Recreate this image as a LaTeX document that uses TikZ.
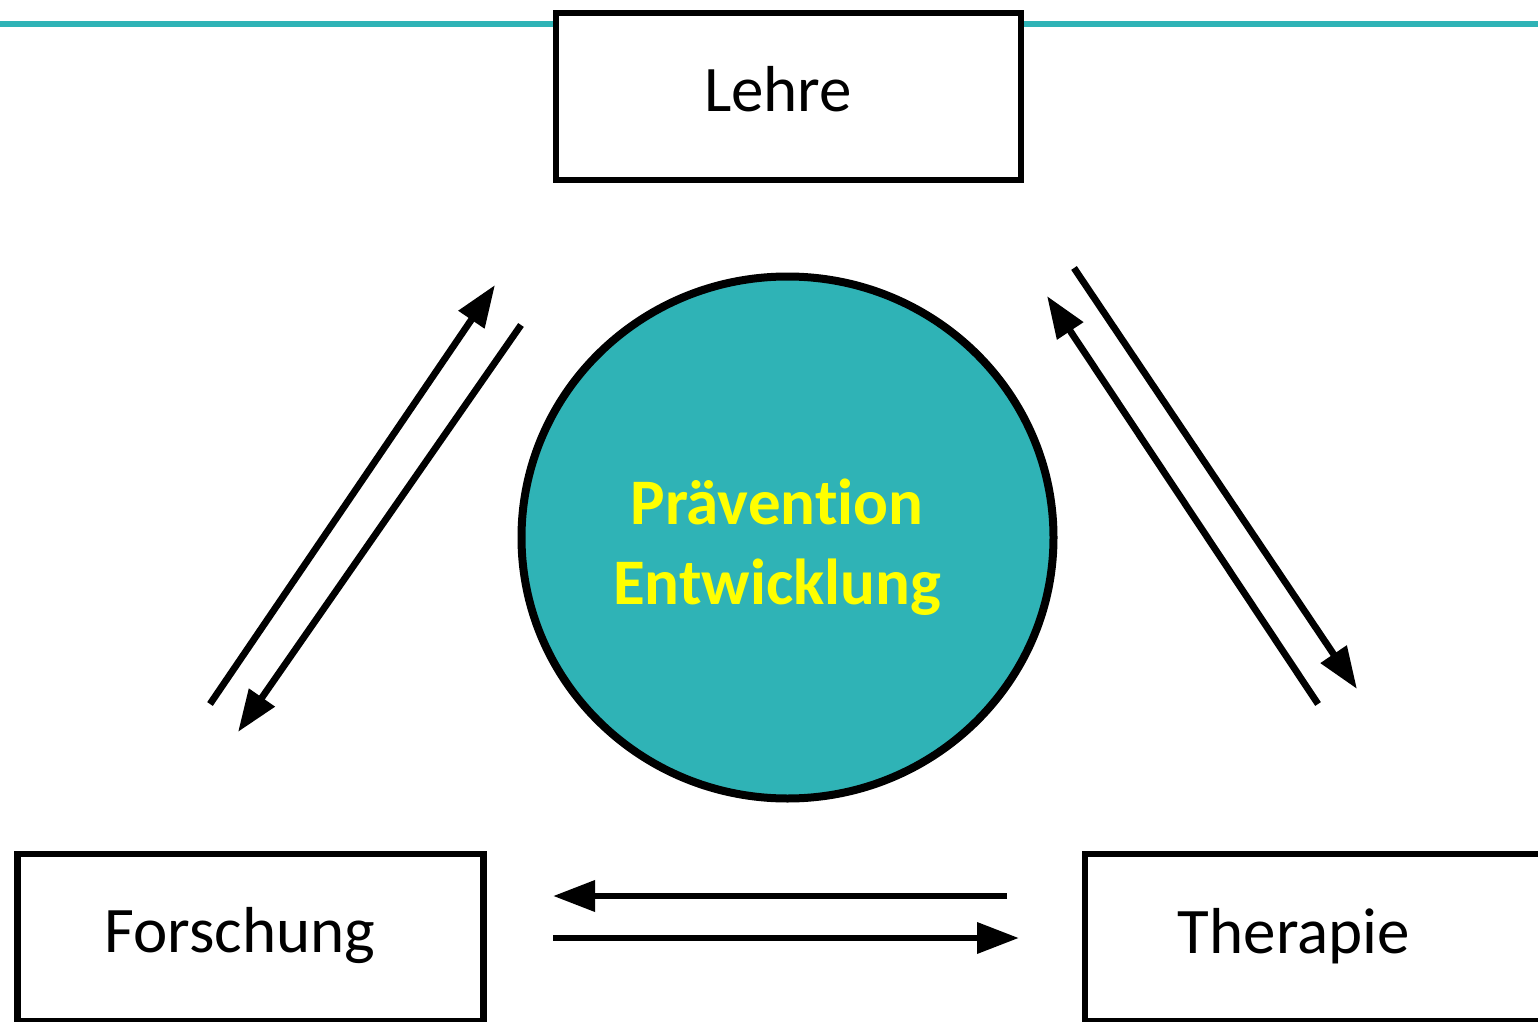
\documentclass[tikz,border=0pt]{standalone}
\usepackage{fontspec}
\setmainfont[Ligatures=NoCommon]{Carlito}
\usetikzlibrary{arrows.meta,shapes.geometric}
\definecolor{teal1}{HTML}{2FB3B6}
\definecolor{yell}{HTML}{FFFF00}
\begin{document}
\begin{tikzpicture}[x=0.5pt,y=-0.5pt,
  box/.style={draw=black,line width=3.4pt,rectangle,inner sep=0pt,outer sep=0pt},
  lbl/.style={font=\fontsize{32.5}{38}\selectfont,inner sep=0pt},
  conn/.style={line width=3.4pt,-{Triangle[length=21pt,width=15pt]}}]
\useasboundingbox (0,0) rectangle (1538,1022);
% top line
\coordinate (tl) at (0,24);
\coordinate (tr) at (1538,24);
\draw[teal1,line width=2.6pt] (tl) -- (tr);
% boxes
\node[box,fill=white,minimum width=232.5pt,minimum height=83.5pt] (lehre) at (788.5,96.5) {};
\node[box,minimum width=233pt,minimum height=83.5pt] (forsch) at (250.5,937.5) {};
\node[box,minimum width=232pt,minimum height=83.5pt] (thera) at (1317,937.5) {};
\node[lbl] (tlehre) at (778,89) {Lehre};
\node[lbl] (tforsch) at (240,936) {Forschung};
\node[lbl] (tthera) at (1294,936) {Therapie};
% circle
\node[draw=black,fill=teal1,line width=4pt,ellipse,minimum width=266pt,minimum height=261pt,inner sep=0pt] (circ) at (787.5,537.5) {};
\node[font=\bfseries\fontsize{32.5}{40}\selectfont,text=yell,align=center,inner sep=0pt] (ctext) at (777,547) {Prävention\\Entwicklung};
% arrow coordinates
\coordinate (a1s) at (210,704); \coordinate (a1e) at (495,285);
\coordinate (a2s) at (521,325); \coordinate (a2e) at (238,732);
\coordinate (a3s) at (1074,268); \coordinate (a3e) at (1357,689);
\coordinate (a4s) at (1318,704); \coordinate (a4e) at (1047,296);
\coordinate (a5s) at (1007,896); \coordinate (a5e) at (553,896);
\coordinate (a6s) at (553,938); \coordinate (a6e) at (1019,938);
\draw[conn] (a1s) -- (a1e);
\draw[conn] (a2s) -- (a2e);
\draw[conn] (a3s) -- (a3e);
\draw[conn] (a4s) -- (a4e);
\draw[conn] (a5s) -- (a5e);
\draw[conn] (a6s) -- (a6e);
\end{tikzpicture}
\end{document}
